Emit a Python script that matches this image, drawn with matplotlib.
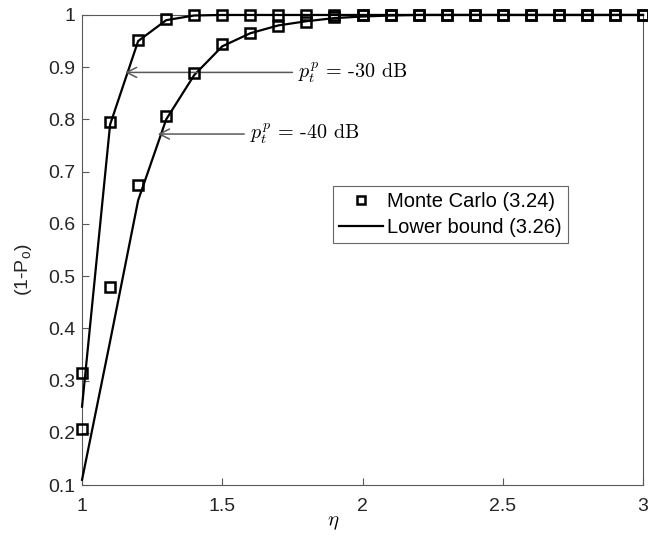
import numpy as np
import matplotlib
matplotlib.use("Agg")
import matplotlib.pyplot as plt
from matplotlib.lines import Line2D

plt.rcParams["font.family"] = ["Liberation Sans", "DejaVu Sans"]
plt.rcParams["mathtext.fontset"] = "cm"
plt.rcParams["mathtext.rm"] = "Liberation Sans"
plt.rcParams["mathtext.it"] = "Liberation Sans:italic"

eta = [1.0, 1.1, 1.2, 1.3, 1.4, 1.5, 1.6, 1.7, 1.8, 1.9, 2.0,
       2.1, 2.2, 2.3, 2.4, 2.5, 2.6, 2.7, 2.8, 2.9, 3.0]

# p_t^p = -30 dB
mc_30 = [0.315, 0.795, 0.953, 0.992, 0.999, 1.0, 1.0, 1.0, 1.0, 1.0, 1.0,
         1.0, 1.0, 1.0, 1.0, 1.0, 1.0, 1.0, 1.0, 1.0, 1.0]
lb_30 = [0.25, 0.79, 0.95, 0.99, 0.999, 1.0, 1.0, 1.0, 1.0, 1.0, 1.0,
         1.0, 1.0, 1.0, 1.0, 1.0, 1.0, 1.0, 1.0, 1.0, 1.0]

# p_t^p = -40 dB
mc_40 = [0.208, 0.479, 0.675, 0.807, 0.889, 0.944, 0.965, 0.979, 0.987, 0.996, 0.999,
         1.0, 1.0, 1.0, 1.0, 1.0, 1.0, 1.0, 1.0, 1.0, 1.0]
lb_40 = [0.11, 0.375, 0.645, 0.80, 0.885, 0.94, 0.965, 0.98, 0.988, 0.994, 0.997,
         0.999, 1.0, 1.0, 1.0, 1.0, 1.0, 1.0, 1.0, 1.0, 1.0]

xticks = [1, 1.5, 2, 2.5, 3]
xticklabels = ["1", "1.5", "2", "2.5", "3"]
yticks = [0.1, 0.2, 0.3, 0.4, 0.5, 0.6, 0.7, 0.8, 0.9, 1.0]
yticklabels = ["0.1", "0.2", "0.3", "0.4", "0.5", "0.6", "0.7", "0.8", "0.9", "1"]

fig = plt.figure(figsize=(6.48, 5.36), dpi=100)
ax = fig.add_axes([0.1266, 0.0951, 0.8657, 0.877])

axis_col = "0.35"
for y in (lb_30, lb_40):
    ax.plot(eta, y, color="black", lw=1.6, zorder=3, clip_on=False)
for y in (mc_30, mc_40):
    ax.plot(eta, y, ls="none", marker="s", ms=7.5, mfc="none", mec="black",
            mew=1.8, zorder=4, clip_on=False)

ax.set_xlim(1, 3)
ax.set_ylim(0.1, 1.0)
ax.set_xticks(xticks)
ax.set_xticklabels(xticklabels)
ax.set_yticks(yticks)
ax.set_yticklabels(yticklabels)
ax.tick_params(direction="in", length=5, width=0.8, colors=axis_col,
               labelcolor="0.15", labelsize=14)
ax.tick_params(axis="x", pad=9)
ax.tick_params(axis="y", pad=5)
for s in ax.spines.values():
    s.set_color(axis_col)
    s.set_linewidth(0.8)

fig.text(333 / 648, 1 - 523 / 536, r"$\eta$", fontsize=15, ha="center",
         va="center", math_fontfamily="cm")
fig.text(23 / 648, 1 - 270 / 536, r"(1-P$_\mathrm{o}$)", rotation=90,
         ha="center", va="center", fontsize=14, color="0.15",
         math_fontfamily="custom")

for label, tip, txt in [("$p_t^p$ = -30 dB", (1.153, 0.89), (1.77, 0.89)),
                        ("$p_t^p$ = -40 dB", (1.27, 0.772), (1.598, 0.772))]:
    ax.annotate(label, xy=tip, xytext=txt, fontsize=14.5, family="cmr10",
                va="center", ha="left", math_fontfamily="cm",
                arrowprops=dict(arrowstyle="->", color="0.35", lw=1.1,
                                mutation_scale=18, shrinkA=2, shrinkB=0))

handles = [Line2D([], [], ls="none", marker="s", ms=6, mfc="none", mec="black", mew=1.8),
           Line2D([], [], color="black", lw=1.6)]
leg = ax.legend(handles, ["Monte Carlo (3.24)", "Lower bound (3.26)"],
                loc="upper left", bbox_to_anchor=(0.447, 0.636), fontsize=14.5,
                fancybox=False, edgecolor="0.4", framealpha=1,
                handlelength=2.2, handletextpad=0.2, borderpad=0.3,
                labelspacing=0.35, borderaxespad=0)
leg.get_frame().set_linewidth(0.8)

fig.savefig("out.png", dpi=100)
